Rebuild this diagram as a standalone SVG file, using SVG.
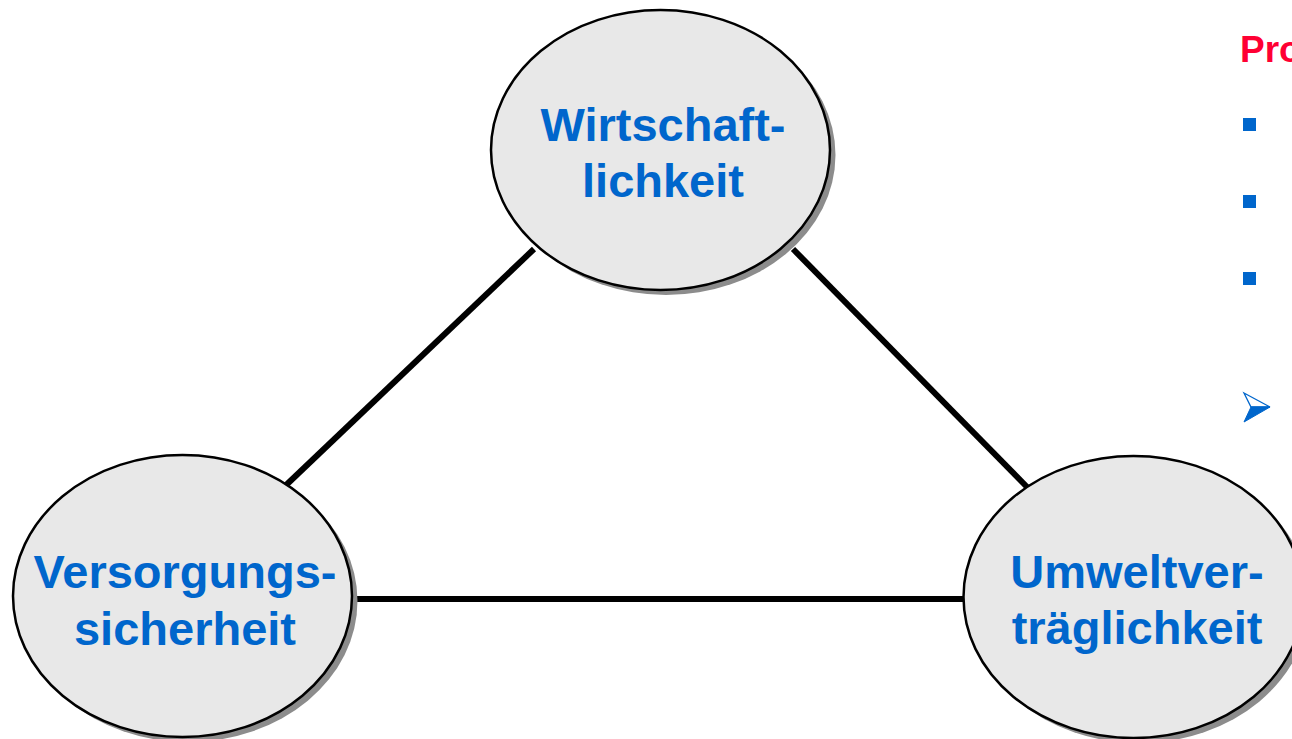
<svg xmlns="http://www.w3.org/2000/svg" width="1292" height="739" viewBox="0 0 1292 739">
  <style>
    .shadow { fill: #8C8C8C; stroke: none; }
    .node { fill: #E8E8E8; stroke: #000000; stroke-width: 2.5; }
    .label { font-family: "Liberation Sans", Arial, sans-serif; font-weight: bold; font-size: 47px; fill: #0066CC; text-anchor: middle; }
    .edge { stroke: #000000; stroke-width: 6; fill: none; }
    .bullet { fill: #0066CC; }
    .title { font-family: "Liberation Sans", Arial, sans-serif; font-weight: bold; font-size: 37px; fill: #FF0033; }
  </style>
  <rect width="1292" height="739" fill="#FFFFFF"/>
  <g id="connectors">
    <line class="edge" x1="283" y1="488" x2="534" y2="249"/>
    <line class="edge" x1="793" y1="249" x2="1028" y2="488"/>
    <line class="edge" x1="351" y1="599" x2="965" y2="599"/>
  </g>
  <g id="node-wirtschaftlichkeit">
    <ellipse class="shadow" cx="666" cy="155" rx="169.5" ry="140"/>
    <ellipse class="node" cx="660.5" cy="150" rx="169.5" ry="140"/>
    <text class="label" x="663" y="141">Wirtschaft-</text>
    <text class="label" x="663" y="197">lichkeit</text>
  </g>
  <g id="node-versorgungssicherheit">
    <ellipse class="shadow" cx="188" cy="601" rx="169.5" ry="141"/>
    <ellipse class="node" cx="182.5" cy="596" rx="169.5" ry="141"/>
    <text class="label" x="185" y="588">Versorgungs-</text>
    <text class="label" x="185" y="645">sicherheit</text>
  </g>
  <g id="node-umweltvertraeglichkeit">
    <ellipse class="shadow" cx="1139" cy="602" rx="170" ry="141"/>
    <ellipse class="node" cx="1133.5" cy="597" rx="170" ry="141"/>
    <text class="label" x="1137" y="588">Umweltver-</text>
    <text class="label" x="1137" y="644">träglichkeit</text>
  </g>
  <g id="side-list">
    <text class="title" x="1240" y="62">Pro</text>
    <rect class="bullet" x="1243" y="118" width="13" height="13"/>
    <rect class="bullet" x="1243" y="195" width="13" height="13"/>
    <rect class="bullet" x="1243" y="272" width="13" height="13"/>
    <polygon points="1244,393 1270,407 1251,407" fill="#FFFFFF" stroke="#0066CC" stroke-width="1.3"/>
    <polygon points="1251,407 1270,407 1244,422" fill="#0066CC" stroke="#0066CC" stroke-width="1"/>
  </g>
</svg>
